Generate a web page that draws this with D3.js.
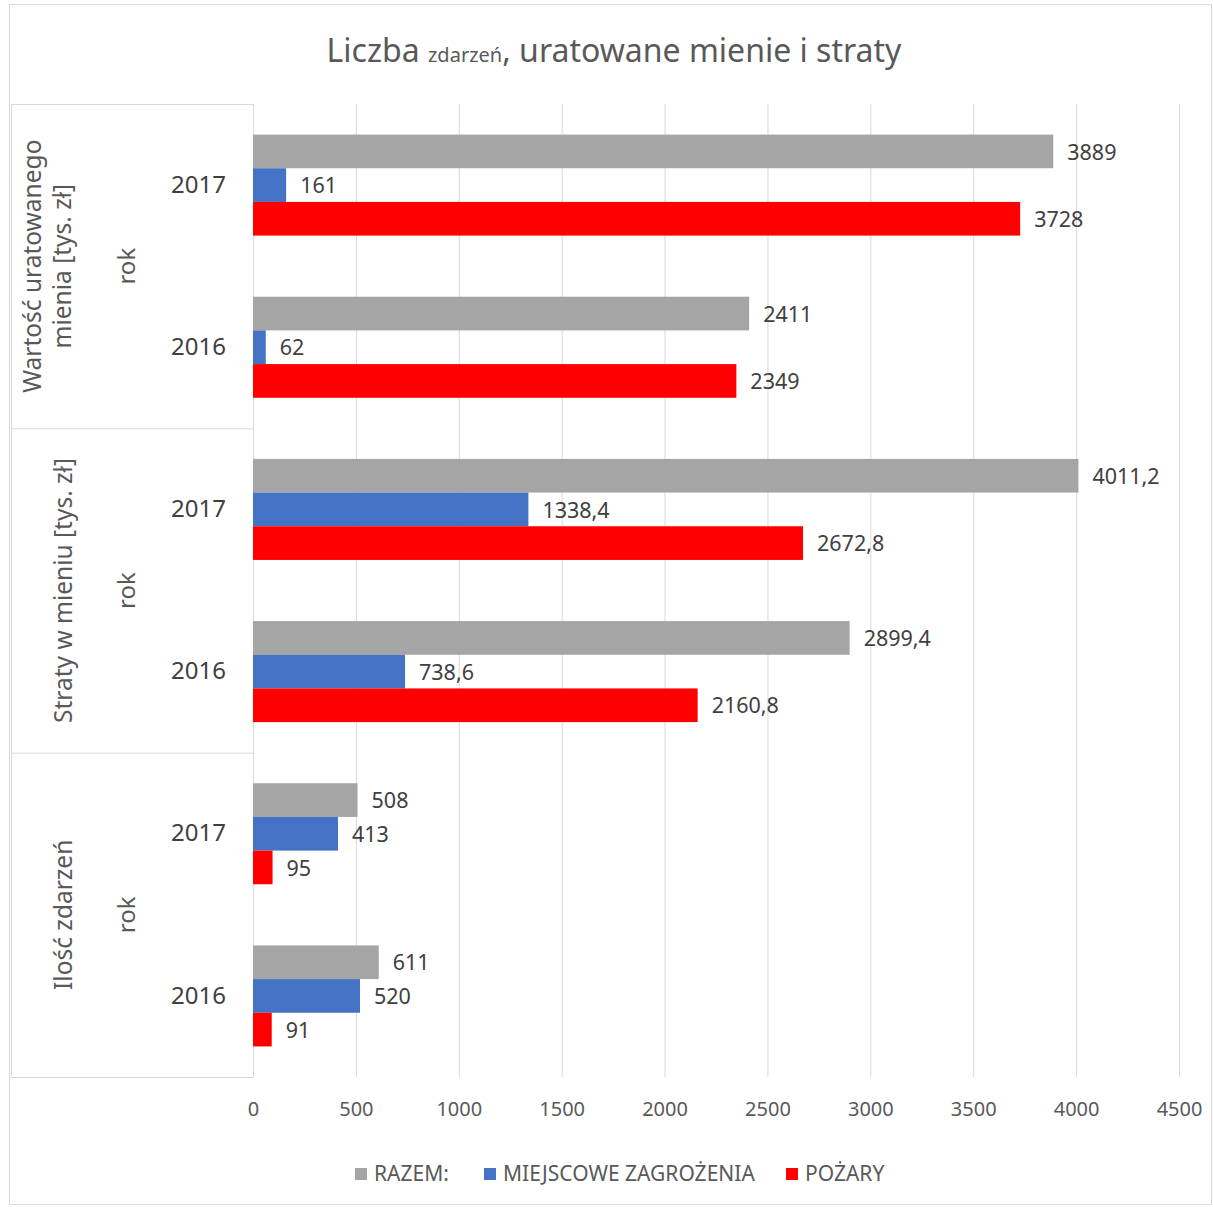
<!DOCTYPE html>
<html>
<head>
<meta charset="utf-8">
<script src="https://cdn.jsdelivr.net/npm/d3@7"></script>
<style>
  body { margin: 0; background: #fff; }
  svg { display: block; font-family: "Noto Sans", "Open Sans", sans-serif; }
</style>
</head>
<body>
<svg id="chart"></svg>
<script>
const groups = [
  ["Wartość uratowanego", "mienia [tys. zł]"],
  ["Straty w mieniu [tys. zł]"],
  ["Ilość zdarzeń"]
]
const years = ["2017", "2016"]
const seriesNames = ["RAZEM:", "MIEJSCOWE ZAGROŻENIA", "POŻARY"]
// values in row order: group by group, 2017 then 2016
const razem = [3889, 2411, 4011.2, 2899.4, 508, 611]
const miejscowe = [161, 62, 1338.4, 738.6, 413, 520]
const pozary = [3728, 2349, 2672.8, 2160.8, 95, 91]
const xTicks = [0, 500, 1000, 1500, 2000, 2500, 3000, 3500, 4000, 4500]

const colors = ["#a5a5a5", "#4472c4", "#ff0000"]
const width = 1213
const height = 1207
const plot = { left: 253, right: 1179, top: 104, bottom: 1077 }

const svg = d3.select("#chart")
  .attr("width", width)
  .attr("height", height)

// chart border
svg.append("rect")
  .attr("x", 9.5).attr("y", 4.5)
  .attr("width", 1202).attr("height", 1200)
  .attr("fill", "#fff")
  .attr("stroke", "#d9d9d9")

// title
const title = svg.append("text")
  .attr("x", 614).attr("y", 62)
  .attr("text-anchor", "middle")
  .attr("fill", "#595959")
  .style("font-size", "32px")
title.append("tspan").text("Liczba ")
title.append("tspan").style("font-size", "20px").text("zdarzeń")
title.append("tspan").text(", uratowane mienie i straty")

const rows = groups.flatMap((g, gi) => years.map((yr, yi) => ({
  key: gi + "-" + yr,
  year: yr,
  values: [razem[gi * 2 + yi], miejscowe[gi * 2 + yi], pozary[gi * 2 + yi]]
})))

const xScale = d3.scaleLinear()
  .domain([0, 4500])
  .range([plot.left, plot.right])

const yScale = d3.scaleBand()
  .domain(rows.map(d => d.key))
  .range([plot.top, plot.bottom])
  .paddingInner(0.377)
  .paddingOuter(0.1885)

const barScale = d3.scaleBand()
  .domain(d3.range(seriesNames.length))
  .range([0, yScale.bandwidth()])

// gridlines
svg.append("g")
  .attr("transform", `translate(0, ${plot.bottom})`)
  .call(d3.axisBottom(xScale).tickValues(xTicks).tickSize(-(plot.bottom - plot.top)).tickFormat(""))
  .call(g => g.select(".domain").remove())
  .call(g => g.selectAll("line").attr("stroke", "#d9d9d9"))

// tick labels
svg.append("g")
  .attr("transform", `translate(0, ${plot.bottom})`)
  .call(d3.axisBottom(xScale).tickValues(xTicks).tickSize(0).tickPadding(25).tickFormat(d3.format("d")))
  .call(g => g.select(".domain").remove())
  .call(g => g.selectAll("text")
    .attr("fill", "#595959")
    .style("font-family", "Noto Sans")
    .style("font-size", "20px"))

// category table lines
const step = yScale.step()
const groupTop = plot.top
const lines = svg.append("g").attr("stroke", "#d9d9d9").attr("fill", "none")
d3.range(groups.length + 1).forEach(i => {
  lines.append("line")
    .attr("x1", 11).attr("x2", plot.left)
    .attr("y1", groupTop + i * step * years.length + 0.5)
    .attr("y2", groupTop + i * step * years.length + 0.5)
})
lines.append("line")
  .attr("x1", 11.5).attr("x2", 11.5)
  .attr("y1", plot.top).attr("y2", plot.bottom)
lines.append("line")
  .attr("x1", plot.left + 0.5).attr("x2", plot.left + 0.5)
  .attr("y1", plot.top).attr("y2", plot.bottom)

// year labels
svg.append("g")
  .attr("transform", `translate(${plot.left}, 0)`)
  .call(d3.axisLeft(yScale).tickSize(0).tickPadding(27).tickFormat(k => k.split("-")[1]))
  .call(g => g.select(".domain").remove())
  .call(g => g.selectAll("text")
    .attr("fill", "#404040")
    .style("font-family", "Noto Sans")
    .style("font-size", "24px"))

// group labels
groups.forEach((lbls, gi) => {
  const cy = groupTop + (gi + 0.5) * step * years.length
  lbls.forEach((t, li) => {
    const cx = lbls.length === 1 ? 63 : 32 + li * 30
    svg.append("text")
      .attr("transform", `translate(${cx}, ${cy}) rotate(-90)`)
      .attr("text-anchor", "middle")
      .attr("dy", "0.35em")
      .attr("fill", "#595959")
      .style("font-size", "24.5px")
      .text(t)
  })
  svg.append("text")
    .attr("transform", `translate(127, ${cy}) rotate(-90)`)
    .attr("text-anchor", "middle")
    .attr("dy", "0.35em")
    .attr("fill", "#595959")
    .style("font-size", "24px")
    .text("rok")
})

// bars
const rowG = svg.selectAll("g.row")
  .data(rows)
  .enter()
  .append("g")
  .attr("class", "row")
  .attr("transform", d => `translate(0, ${yScale(d.key)})`)

rowG.selectAll("rect")
  .data(d => d.values)
  .enter()
  .append("rect")
  .attr("x", xScale(0))
  .attr("y", (d, i) => barScale(i))
  .attr("width", d => xScale(d) - xScale(0))
  .attr("height", barScale.bandwidth())
  .attr("fill", (d, i) => colors[i])

const pl = d3.formatLocale({ decimal: ",", thousands: "", grouping: [3], currency: ["", ""] })
const fmt = pl.format("~f")

rowG.selectAll("text.val")
  .data(d => d.values)
  .enter()
  .append("text")
  .attr("class", "val")
  .attr("x", d => xScale(d) + 14)
  .attr("y", (d, i) => barScale(i) + barScale.bandwidth() / 2)
  .attr("dy", "0.38em")
  .attr("fill", "#404040")
  .style("font-size", "21.5px")
  .text(d => fmt(d))

// legend
const legendX = [355, 484, 786]
const legend = svg.append("g")
seriesNames.forEach((name, i) => {
  legend.append("rect")
    .attr("x", legendX[i]).attr("y", 1168)
    .attr("width", 12).attr("height", 12)
    .attr("fill", colors[i])
  legend.append("text")
    .attr("x", legendX[i] + 19).attr("y", 1174)
    .attr("dy", "0.35em")
    .attr("fill", "#595959")
    .style("font-size", "21px")
    .text(name)
})
</script>
</body>
</html>
